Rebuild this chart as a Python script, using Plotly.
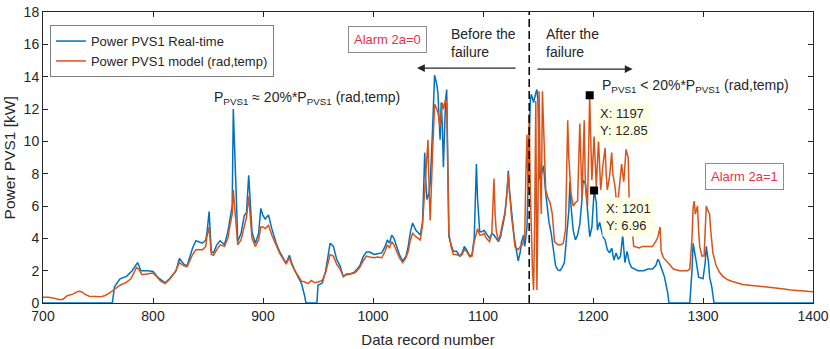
import plotly.graph_objects as go

# ---- data ----
rt_x = [700, 763, 765, 770, 776, 781, 786, 789, 795, 800, 805, 811, 815, 821, 824, 828, 831, 836, 839, 845,
        848, 849, 851, 853, 855, 858, 861, 865, 868, 870, 872, 873, 874, 875, 876, 877, 880, 883, 885, 887,
        889, 890, 893, 896, 898, 900, 902, 905, 908, 912, 915, 918, 921, 924, 926, 929, 932, 935, 938, 939,
        949, 950, 954, 957, 961, 964, 967, 970, 973, 976, 979, 983, 985, 988, 991, 994, 997, 1001, 1004, 1008,
        1011, 1013, 1015, 1017, 1019, 1021, 1024, 1027, 1030, 1032, 1034, 1036, 1039, 1043, 1045, 1046, 1047, 1048, 1049, 1051,
        1052, 1054, 1056, 1058, 1059, 1060, 1061, 1062, 1063, 1064, 1065, 1066, 1067, 1068, 1069, 1071, 1073, 1076, 1079, 1081,
        1083, 1085, 1088, 1090, 1092, 1094, 1095, 1097, 1099, 1101, 1103, 1106, 1108, 1110, 1112, 1114, 1116, 1118, 1120, 1122,
        1123, 1124, 1126, 1128, 1129, 1132, 1134, 1135, 1137, 1138, 1140, 1142, 1143, 1144, 1146, 1148, 1149, 1150, 1151, 1152,
        1153, 1155, 1157, 1158, 1160, 1162, 1164, 1166, 1168, 1170, 1172, 1174, 1176, 1178, 1179, 1180, 1182, 1184, 1186, 1188,
        1190, 1191, 1193, 1194, 1195, 1197, 1199, 1201, 1203, 1204, 1206, 1208, 1209, 1211, 1213, 1215, 1217, 1219, 1221, 1223,
        1225, 1227, 1228, 1229, 1231, 1233, 1235, 1238, 1241, 1246, 1250, 1254, 1257, 1259, 1260, 1262, 1265, 1268, 1269, 1288,
        1290, 1291, 1293, 1294, 1296, 1300, 1302, 1303, 1305, 1306, 1308, 1310, 1400]
rt_y = [0, 0, 1.0, 1.5, 1.65, 2.0, 2.5, 2.0, 2.0, 1.95, 1.55, 1.25, 1.5, 2.0, 2.75, 2.4, 2.3, 3.4, 3.85, 3.7,
        3.9, 4.3, 5.65, 3.2, 3.1, 3.6, 3.85, 3.6, 4.4, 5.3, 6.0, 12.0, 10.3, 8.0, 6.0, 3.8, 4.3, 5.4, 5.6, 7.9,
        5.0, 4.4, 3.7, 4.3, 5.85, 5.4, 5.2, 5.45, 4.6, 3.7, 3.2, 2.85, 2.45, 2.95, 2.5, 2.0, 1.6, 1.2, 0.4, 0,
        0, 1.1, 1.25, 2.0, 3.7, 3.5, 2.7, 2.3, 1.63, 1.8, 1.8, 1.9, 2.05, 2.3, 2.85, 3.15, 3.15, 3.0, 3.05, 3.1,
        3.5, 3.9, 3.7, 4.2, 4.0, 3.6, 3.0, 2.6, 2.9, 3.5, 4.4, 4.95, 4.5, 4.2, 5.0, 7.0, 9.3, 7.5, 6.4, 6.8,
        7.4, 10.5, 14.1, 13.5, 13.0, 11.5, 10.1, 12.4, 11.0, 8.4, 10.5, 12.6, 13.2, 9.5, 4.1, 3.6, 3.2, 3.2, 2.9, 3.1,
        3.5, 3.3, 2.9, 3.0, 4.0, 8.6, 6.5, 4.4, 4.4, 4.5, 4.3, 4.0, 4.3, 4.2, 4.0, 3.8, 4.1, 4.7, 5.5, 7.0,
        8.2, 7.0, 5.5, 4.3, 3.8, 2.6, 3.2, 3.8, 4.2, 3.5, 4.7, 9.0, 12.5, 12.9, 12.4, 13.0, 13.2, 12.5, 8.0, 7.6,
        7.9, 8.5, 6.8, 6.2, 5.0, 4.3, 3.1, 2.3, 2.05, 2.0, 2.2, 2.5, 4.1, 5.7, 7.5, 6.0, 4.5, 3.9, 4.2, 4.9,
        6.4, 7.6, 7.4, 6.6, 5.5, 4.1, 4.7, 6.96, 6.2, 4.5, 5.0, 4.3, 4.1, 3.9, 3.3, 3.1, 3.4, 2.65, 3.1, 2.7,
        2.9, 4.2, 3.2, 2.5, 3.2, 2.5, 2.2, 2.1, 2.0, 2.0, 2.1, 2.1, 2.3, 2.7, 2.6, 2.2, 1.6, 0.6, 0, 0,
        2.0, 3.7, 3.0, 2.5, 1.6, 1.5, 2.5, 3.5, 2.5, 1.6, 1.0, 0, 0]

md_x = [700, 705, 710, 714, 718, 722, 727, 732, 735, 738, 742, 747, 752, 756, 760, 765, 770, 775, 780, 785,
        787, 790, 795, 800, 803, 807, 811, 815, 820, 824, 828, 831, 836, 839, 845, 848, 849, 851, 853, 855,
        858, 861, 865, 868, 870, 872, 873, 874, 875, 876, 877, 880, 883, 885, 887, 889, 890, 893, 896, 898,
        900, 902, 905, 908, 912, 915, 918, 921, 924, 926, 929, 932, 935, 938, 941, 944, 947, 950, 954, 957,
        961, 964, 967, 970, 973, 976, 979, 983, 985, 988, 991, 994, 997, 1001, 1004, 1008, 1011, 1013, 1015, 1017,
        1019, 1021, 1024, 1027, 1030, 1032, 1034, 1036, 1039, 1043, 1045, 1046, 1048, 1050, 1051, 1052, 1054, 1056, 1058, 1059,
        1061, 1062, 1063, 1064, 1066, 1067, 1068, 1069, 1071, 1073, 1076, 1079, 1081, 1083, 1085, 1088, 1090, 1092, 1094, 1095,
        1097, 1099, 1101, 1103, 1106, 1108, 1109, 1110, 1111, 1112, 1114, 1116, 1118, 1120, 1122, 1123, 1124, 1126, 1128, 1129,
        1132, 1134, 1136, 1138, 1139, 1140, 1141, 1142, 1143, 1144, 1145, 1146, 1147, 1148, 1149, 1150, 1151, 1152, 1153, 1154,
        1155, 1156, 1157, 1159, 1161, 1163, 1165, 1168, 1171, 1173, 1175, 1177, 1178, 1180, 1182, 1184, 1186, 1188, 1189, 1190,
        1192, 1193, 1195, 1197, 1198, 1199, 1201, 1202, 1203, 1205, 1206, 1207, 1209, 1211, 1212, 1213, 1215, 1217, 1218, 1220,
        1222, 1224, 1226, 1228, 1230, 1232, 1233, 1235, 1237, 1240, 1242, 1245, 1248, 1251, 1254, 1257, 1259, 1261, 1262, 1264,
        1267, 1270, 1273, 1276, 1279, 1282, 1286, 1288, 1290, 1291, 1292, 1293, 1295, 1296, 1297, 1299, 1301, 1302, 1303, 1304,
        1306, 1307, 1309, 1312, 1315, 1318, 1322, 1326, 1330, 1336, 1342, 1350, 1360, 1370, 1380, 1390, 1400]
md_y = [0.35, 0.35, 0.3, 0.22, 0.22, 0.45, 0.55, 0.72, 0.7, 0.55, 0.42, 0.4, 0.38, 0.45, 0.6, 0.85, 1.1, 1.25, 1.5, 2.2,
        2.1, 1.75, 1.8, 1.85, 1.65, 1.35, 1.2, 1.45, 1.9, 2.5, 2.3, 2.25, 3.0, 3.3, 3.3, 3.5, 4.1, 4.7, 3.0, 2.95,
        3.3, 3.6, 3.5, 4.0, 4.8, 5.5, 7.0, 6.0, 5.0, 4.5, 3.6, 3.9, 4.8, 5.3, 6.6, 4.6, 4.0, 3.5, 3.9, 4.7,
        4.7, 4.6, 4.8, 4.2, 3.5, 3.1, 2.75, 2.4, 2.8, 2.4, 2.0, 1.65, 1.35, 1.3, 1.2, 1.4, 1.25, 1.3, 1.4, 1.9,
        3.0, 2.9, 2.4, 2.1, 1.65, 1.75, 1.8, 1.85, 1.95, 2.2, 2.6, 2.9, 2.85, 2.8, 2.85, 2.8, 3.2, 3.6, 3.4, 3.8,
        3.6, 3.3, 2.8, 2.5, 2.8, 3.2, 3.9, 4.3, 4.1, 3.9, 4.8, 5.9, 8.0, 10.1, 7.0, 5.1, 9.0, 12.3, 12.0, 11.8,
        10.9, 11.8, 12.4, 12.0, 12.6, 12.3, 8.0, 4.3, 3.5, 3.0, 3.0, 2.9, 3.0, 3.3, 3.2, 2.85, 2.9, 3.8, 4.3, 4.6,
        4.2, 4.2, 4.3, 4.0, 3.8, 4.3, 6.0, 7.7, 5.5, 4.5, 3.8, 4.3, 5.0, 5.6, 7.0, 8.0, 7.0, 5.3, 4.2, 3.5,
        3.3, 3.5, 3.6, 4.3, 8.0, 10.4, 7.0, 11.7, 7.0, 4.0, 2.0, 0.8, 5.0, 12.5, 0.8, 6.0, 13.1, 8.0, 5.5, 13.1,
        11.0, 8.6, 7.0, 6.5, 6.2, 5.5, 3.8, 3.6, 3.6, 3.7, 4.5, 11.3, 9.0, 6.8, 6.0, 6.2, 6.3, 11.1, 8.0, 6.5,
        11.3, 7.5, 6.0, 12.85, 10.0, 7.6, 10.3, 8.5, 7.2, 10.1, 8.0, 7.0, 8.5, 9.6, 8.0, 7.0, 7.8, 9.3, 8.0, 7.2,
        5.8, 7.4, 8.6, 7.5, 9.5, 9.0, 6.0, 5.0, 3.5, 3.45, 3.4, 3.5, 3.5, 3.5, 3.5, 3.8, 4.1, 4.7, 3.2, 2.8,
        2.6, 2.35, 2.1, 2.05, 2.0, 2.0, 2.0, 2.1, 4.0, 5.9, 6.3, 5.5, 6.0, 4.5, 3.5, 2.9, 2.9, 4.5, 6.0, 5.8,
        5.5, 4.5, 3.1, 2.3, 1.9, 1.65, 1.45, 1.35, 1.25, 1.15, 1.1, 1.05, 1.0, 0.9, 0.8, 0.75, 0.7]

tip_x = [1197, 1201]
tip_y = [12.85, 6.96]
failure_x = 1142

x_ticks = [700, 800, 900, 1000, 1100, 1200, 1300, 1400]
y_ticks = [0, 2, 4, 6, 8, 10, 12, 14, 16, 18]

BLUE = "#0072BD"
ORANGE = "#D95319"
RED = "#E8304C"
FONT = "Liberation Sans, Arial, sans-serif"
TXT = "#262626"

fig = go.Figure()
fig.add_trace(go.Scatter(x=rt_x, y=rt_y, mode="lines", name="Power PVS1 Real-time",
                         line=dict(color=BLUE, width=1.5)))
fig.add_trace(go.Scatter(x=md_x, y=md_y, mode="lines", name="Power PVS1 model (rad,temp)",
                         line=dict(color=ORANGE, width=1.5)))
fig.add_trace(go.Scatter(x=tip_x, y=tip_y, mode="markers", showlegend=False,
                         marker=dict(symbol="square", size=8, color="black")))

# failure line
fig.add_shape(type="line", x0=failure_x, x1=failure_x, y0=0, y1=18, xref="x", yref="y",
              line=dict(color="black", width=1.5, dash="8px,4px"))

ann = []
def box(text, x, y, color=RED):
    ann.append(dict(x=x, y=y, xref="x", yref="y", text=text, showarrow=False,
                    font=dict(family=FONT, size=13, color=color),
                    bgcolor="white", bordercolor="#8c8c8c", borderwidth=1, borderpad=5))

box("Alarm 2a=0", 1013.5, 16.3)
box("Alarm 2a=1", 1338, 7.85)

ann.append(dict(x=1069, y=16.1, xref="x", yref="y", text="Before the<br>failure", showarrow=False,
                xanchor="left", align="left", font=dict(family=FONT, size=14, color=TXT)))
ann.append(dict(x=1155, y=16.1, xref="x", yref="y", text="After the<br>failure", showarrow=False,
                xanchor="left", align="left", font=dict(family=FONT, size=14, color=TXT)))

# arrows
ann.append(dict(x=1040, y=14.53, ax=1131, ay=14.53, xref="x", yref="y", axref="x", ayref="y",
                text="", showarrow=True, arrowhead=2, arrowsize=1.3, arrowwidth=1.2, arrowcolor=TXT))
ann.append(dict(x=1236, y=14.47, ax=1148, ay=14.47, xref="x", yref="y", axref="x", ayref="y",
                text="", showarrow=True, arrowhead=2, arrowsize=1.3, arrowwidth=1.2, arrowcolor=TXT))

ann.append(dict(x=940, y=12.7, xref="x", yref="y",
                text="P<sub>PVS1</sub> ≈ 20%*P<sub>PVS1</sub> (rad,temp)", showarrow=False,
                font=dict(family=FONT, size=14, color=TXT)))
ann.append(dict(x=1206, y=13.4, xref="x", yref="y", xanchor="left",
                text="P<sub>PVS1</sub> < 20%*P<sub>PVS1</sub> (rad,temp)", showarrow=False,
                font=dict(family=FONT, size=14, color=TXT)))

# data tips
ann.append(dict(x=1203, y=11.2, xref="x", yref="y", xanchor="left", align="left",
                text="X: 1197<br>Y: 12.85", showarrow=False, bgcolor="#FFFFE6",
                font=dict(family=FONT, size=13, color=TXT), borderpad=3))
ann.append(dict(x=1208.5, y=5.3, xref="x", yref="y", xanchor="left", align="left",
                text="X: 1201<br>Y: 6.96", showarrow=False, bgcolor="#FFFFE6",
                font=dict(family=FONT, size=13, color=TXT), borderpad=3))

# y-axis title (rotated text at the far left like the reference)
ann.append(dict(x=-0.043, y=0.5, xref="paper", yref="paper", text="Power PVS1 [kW]",
                textangle=-90, showarrow=False, xanchor="center", yanchor="middle",
                font=dict(family=FONT, size=15.5, color=TXT)))

fig.update_layout(
    width=830, height=349,
    margin=dict(l=43, r=17, t=12, b=46),
    paper_bgcolor="white", plot_bgcolor="white",
    font=dict(family=FONT, size=14, color=TXT),
    annotations=ann,
    showlegend=True,
    legend=dict(x=0.009, y=0.955, xanchor="left", yanchor="top",
                bgcolor="white", bordercolor="#7f7f7f", borderwidth=1,
                font=dict(family=FONT, size=13, color=TXT),
                tracegroupgap=0),
)
fig.update_xaxes(range=[700, 1400], tickvals=x_ticks, ticktext=[str(v) for v in x_ticks],
                 showline=True, linecolor=TXT, linewidth=1, mirror="allticks",
                 ticks="inside", ticklen=5, tickcolor=TXT, showgrid=False, zeroline=False,
                 automargin=False, ticklabeloverflow="allow",
                 tickfont=dict(family=FONT, size=14, color=TXT),
                 title=dict(text="Data record number", standoff=11,
                            font=dict(family=FONT, size=15, color=TXT)))
fig.update_yaxes(range=[0, 18], tickvals=y_ticks, ticktext=[str(v) for v in y_ticks],
                 showline=True, linecolor=TXT, linewidth=1, mirror="allticks",
                 ticks="inside", ticklen=5, tickcolor=TXT, showgrid=False, zeroline=False,
                 automargin=False, ticklabeloverflow="allow",
                 tickfont=dict(family=FONT, size=14, color=TXT))

# remove the browser's default 8 px body margin so the 830x349 figure fills the window
fig.write_html("out.html", config={"displayModeBar": False},
               post_script="document.body.style.margin='0';")
